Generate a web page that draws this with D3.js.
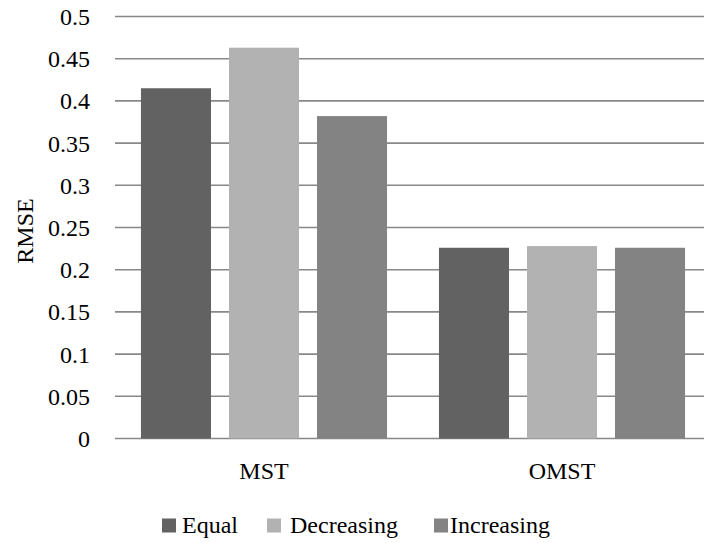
<!DOCTYPE html>
<html><head><meta charset="utf-8">
<script src="https://cdn.jsdelivr.net/npm/d3@7"></script>
<style>body{margin:0;background:#fff}svg{display:block}</style>
</head><body><svg id="c" width="704" height="543"></svg>
<script>
const categories = ["MST", "OMST"];
const seriesNames = ["Equal", "Decreasing", "Increasing"];
const equalVals = [0.415, 0.226];
const decreasingVals = [0.463, 0.228];
const increasingVals = [0.382, 0.226];
const yTicks = [0, 0.05, 0.1, 0.15, 0.2, 0.25, 0.3, 0.35, 0.4, 0.45, 0.5];
const colors = ["#626262", "#b2b2b2", "#838383"];
const seriesVals = [equalVals, decreasingVals, increasingVals];

const FONT = '"Liberation Serif"';
const svg = d3.select("#c");
const fs = 24;
const y = d3.scaleLinear().domain([0, 0.5]).range([438.5, 16.5]);
const x0 = d3.scaleBand().domain(categories).range([115, 711]).paddingInner(0).paddingOuter(0);
const x1 = d3.scaleBand().domain(seriesNames).range([0, x0.bandwidth()]).paddingInner(0.2045).paddingOuter(0.295);

function txt(sel) {
  return sel.style("font-family", FONT).style("font-size", fs + "px").attr("fill", "#000");
}

// gridlines
svg.append("g").selectAll("line").data(yTicks).join("line")
  .attr("x1", 115).attr("x2", 711)
  .attr("y1", d => y(d)).attr("y2", d => y(d))
  .attr("stroke", "#888").attr("stroke-width", 1.6);

// bars
const rows = categories.map((c, i) => seriesNames.map((s, j) => ({c, s, v: seriesVals[j][i], j})));
svg.append("g").selectAll("g").data(rows).join("g")
  .attr("transform", d => `translate(${x0(d[0].c)},0)`)
  .selectAll("rect").data(d => d).join("rect")
  .attr("x", d => x1(d.s)).attr("width", x1.bandwidth())
  .attr("y", d => y(d.v)).attr("height", d => y(0) - y(d.v))
  .attr("fill", d => colors[d.j]);

// y tick labels
txt(svg.append("g").selectAll("text").data(yTicks).join("text")
  .attr("x", 90).attr("y", d => y(d) + 8.5)
  .attr("text-anchor", "end")
  .text(d => d3.format("~g")(d)));

// axis title
txt(svg.append("text").attr("transform", "translate(32.5,231) rotate(-90)")
  .attr("text-anchor", "middle").text("RMSE"));

// category labels
txt(svg.append("g").selectAll("text").data(categories).join("text")
  .attr("x", d => x0(d) + x0.bandwidth() / 2).attr("y", 479)
  .attr("text-anchor", "middle").text(d => d));

// legend
const legSquareX = [162, 267, 434];
const legTextX = [182, 290, 450];
const lg = svg.append("g").selectAll("g").data(seriesNames).join("g");
lg.append("rect").attr("x", (d, i) => legSquareX[i]).attr("y", 518.5)
  .attr("width", 14).attr("height", 14).attr("fill", (d, i) => colors[i]);
txt(lg.append("text").attr("x", (d, i) => legTextX[i]).attr("y", 533).text(d => d));
</script></body></html>
